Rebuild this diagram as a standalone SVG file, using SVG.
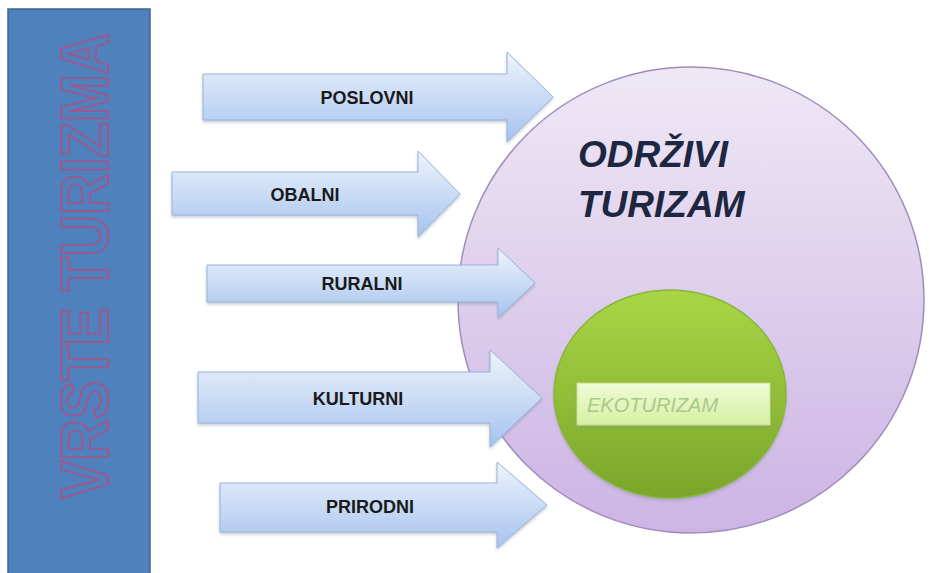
<svg xmlns="http://www.w3.org/2000/svg" width="930" height="573" viewBox="0 0 930 573">
<defs>
<linearGradient id="arrowG" x1="0" y1="0" x2="0" y2="1">
<stop offset="0" stop-color="#eef4fc"/>
<stop offset="1" stop-color="#a6c3ee"/>
</linearGradient>
<linearGradient id="bigG" x1="0" y1="0" x2="0" y2="1">
<stop offset="0" stop-color="#efe8f5"/>
<stop offset="1" stop-color="#ccb4e4"/>
</linearGradient>
<linearGradient id="greenG" x1="0" y1="0" x2="0" y2="1">
<stop offset="0" stop-color="#a9d645"/>
<stop offset="1" stop-color="#7aa52a"/>
</linearGradient>
<linearGradient id="ekoG" x1="0" y1="0" x2="0" y2="1">
<stop offset="0" stop-color="#f0fbd6"/>
<stop offset="1" stop-color="#d6f0a4"/>
</linearGradient>
<filter id="sh" x="-10%" y="-10%" width="120%" height="130%">
<feDropShadow dx="0" dy="2" stdDeviation="1.5" flood-color="#8090a0" flood-opacity="0.45"/>
</filter>
</defs>
<style>
.arrow{fill:url(#arrowG);stroke:#98b4da;stroke-width:1;filter:url(#sh)}
.lbl{font-family:"Liberation Sans",Arial,sans-serif;font-weight:bold;font-size:18px;fill:#1a1a1a;text-anchor:middle}
</style>
<rect width="930" height="573" fill="#ffffff"/>
<g id="vrste">
<rect x="8" y="9" width="142" height="570" fill="#4f81bd" stroke="#3b6597" stroke-width="1.5"/>
<text transform="translate(108,266) rotate(-90)" text-anchor="middle" font-family="'Liberation Sans',Arial,sans-serif" font-size="68" font-weight="bold" fill="#4f81bd" stroke="#a2568c" stroke-width="2" textLength="466" lengthAdjust="spacingAndGlyphs">VRSTE TURIZMA</text>
</g>
<g id="odrzivi">
<circle cx="691" cy="300" r="233" fill="url(#bigG)" stroke="#a08cbc" stroke-width="1.5"/>
<text font-family="'Liberation Sans',Arial,sans-serif" font-size="37" font-weight="bold" font-style="italic" fill="#1d2742"><tspan x="578" y="167">ODRŽIVI</tspan><tspan x="578" y="217">TURIZAM</tspan></text>
</g>
<g id="ekoturizam">
<ellipse cx="670" cy="394" rx="116" ry="104" fill="url(#greenG)" stroke="#8cb53a" stroke-width="1.5" filter="url(#sh)"/>
<rect x="577" y="383" width="193" height="42" fill="url(#ekoG)" stroke="#c3e08a" stroke-width="1" filter="url(#sh)"/>
<text x="587" y="412" font-family="'Liberation Sans',Arial,sans-serif" font-size="20" font-style="italic" fill="#a9c98a">EKOTURIZAM</text>
</g>
<g id="connectors">
<g id="poslovni">
<path class="arrow" d="M203,74 H507 V52 L553,97 L507,142 V120 H203 Z"/>
<text class="lbl" x="367" y="104">POSLOVNI</text>
</g>
<g id="obalni">
<path class="arrow" d="M172,172 H418 V151 L460,194 L418,237 V215 H172 Z"/>
<text class="lbl" x="305" y="201">OBALNI</text>
</g>
<g id="ruralni">
<path class="arrow" d="M207,265 H498 V248 L535,283 L498,318 V302 H207 Z"/>
<text class="lbl" x="362" y="290">RURALNI</text>
</g>
<g id="kulturni">
<path class="arrow" d="M198,372 H490 V350 L542,398 L490,447 V423 H198 Z"/>
<text class="lbl" x="358" y="405">KULTURNI</text>
</g>
<g id="prirodni">
<path class="arrow" d="M220,483 H497 V462 L547,505 L497,548 V532 H220 Z"/>
<text class="lbl" x="370" y="513">PRIRODNI</text>
</g>
</g>
</svg>
